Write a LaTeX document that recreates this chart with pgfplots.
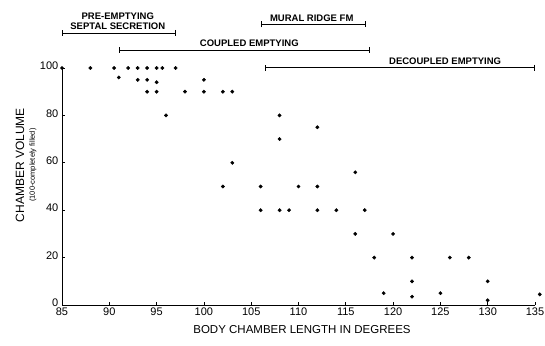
\documentclass[border=0pt]{standalone}
\usepackage{pgfplots}
\pgfplotsset{compat=1.18}
\usepackage{fontspec}
\setmainfont{Liberation Sans}
\usetikzlibrary{arrows.meta}
\begin{document}
\begin{tikzpicture}
\begin{axis}[
  at={(0,0)}, anchor=south west,
  scale only axis, width=473pt, height=237pt,
  xmin=85, xmax=135, ymin=0, ymax=100,
  axis x line=bottom, axis y line=left,
  axis line style={-, line width=0.9pt},
  xtick={85,90,...,135}, ytick={0,20,...,100},
  tick align=inside, major tick length=3pt,
  tick style={line width=0.7pt, black},
  /pgf/number format/assume math mode=true,
  ticklabel style={font=\fontsize{11}{13}\selectfont},
  xticklabel style={yshift=-2pt, inner sep=0.5pt},
  yticklabel style={xshift=-3pt, yshift=2pt, inner sep=0.5pt},
  clip=false,
]
\addplot[only marks, mark=*, mark size=1.7pt, black] coordinates {
(85,100) (88,100) (90.5,100) (92,100) (93,100) (94,100) (95,100) (95.6,100) (97,100)
(91,96) (93,95) (94,95) (95,94) (100,95)
(94,90) (95,90) (98,90) (100,90) (102,90) (103,90)
(96,80) (103,60) (102,50) (106,50)
(108,80) (108,70) (112,75) (110,50) (112,50) (116,56)
(106,40) (108,40) (109,40) (112,40) (114,40) (117,40)
(116,30) (120,30)
(118,20) (122,20) (126,20) (128,20)
(122,10) (130,10)
(119,5) (122,3.5) (125,5) (130,2) (135.5,4.5)
};
\begin{scope}[line width=0.8pt, {Bar[width=6pt]}-{Bar[width=6pt]}]
\draw (axis cs:85,114.8) -- (axis cs:97,114.8);
\draw (axis cs:106,118.4) -- (axis cs:117.1,118.4);
\draw (axis cs:91,107.6) -- (axis cs:117.5,107.6);
\draw (axis cs:106.5,100.2) -- (axis cs:135,100.2);
\end{scope}
\begin{scope}[font=\bfseries\fontsize{9.5}{10.5}\selectfont, inner sep=1pt]
\node[anchor=south, align=center] at (axis cs:90.9,115.6) {PRE-EMPTYING\\SEPTAL SECRETION};
\node[anchor=south] at (axis cs:111.4,119.2) {MURAL RIDGE FM};
\node[anchor=south] at (axis cs:104.8,108.4) {COUPLED EMPTYING};
\node[anchor=south] at (axis cs:125.5,101) {DECOUPLED EMPTYING};
\end{scope}
\end{axis}
\node[rotate=90, font=\fontsize{12}{14}\selectfont] at (-42pt,140pt) {CHAMBER VOLUME};
\node[rotate=90, font=\fontsize{7.5}{8}\selectfont] at (-29pt,140pt) {(100-completely filled)};
\node[font=\fontsize{11.5}{13}\selectfont, inner sep=1pt] at (240pt,-25pt) {BODY CHAMBER LENGTH IN DEGREES};
\pgfresetboundingbox
\path (-62pt,-40pt) rectangle (483pt,305pt);
\end{tikzpicture}
\end{document}
